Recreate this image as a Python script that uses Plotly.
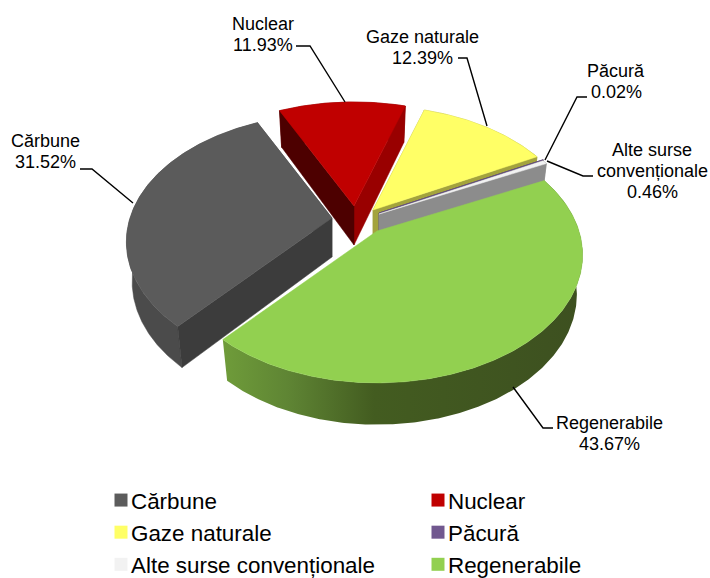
import numpy as np
import plotly.graph_objects as go

categories = ["Cărbune", "Nuclear", "Gaze naturale", "Păcură", "Alte surse convenționale", "Regenerabile"]
values = [31.52, 11.93, 12.39, 0.02, 0.46, 43.67]
label_lines = [["Cărbune"], ["Nuclear"], ["Gaze naturale"], ["Păcură"], ["Alte surse", "convenționale"], ["Regenerabile"]]
top_colors = ["#5b5b5b", "#c00000", "#ffff66", "#71588f", "#f2f2f2", "#92d050"]
legend_colors = ["#5c5c5c", "#c00000", "#ffff66", "#71588f", "#f2f2f2", "#92d050"]
outer_colors = ["#4b4b4b", "#7a0000", "#a3a33d", "#4b3a60", "#8c8c8c", "#435c20"]
start_wall = ["#3c3c3c", "#4d0000", "#a3a33d", "#4b3a60", "#8c8c8c", None]
end_wall = ["#3c3c3c", "#990000", "#a3a33d", "#4b3a60", "#8c8c8c", None]
legend_slot = ["legend", "legend2", "legend", "legend2", "legend", "legend2"]

# layout constants of the tilted, exploded pie (pixels)
apex = [(332, 218), (354, 206), (373, 210), (379, 213), (379, 214), (377, 231)]
draw_order = [1, 2, 3, 4, 0, 5]
FIRST_ANGLE = 221.0
RX, RY, PERSP, DEPTH, BOTTOM_X = 202.0, 123.5, 0.187, 39.0, 0.972

label_first_line = [(45, 141), (263, 24), (422, 37), (616, 71), (652, 150), (609, 423)]
LINE_STEP = 21
leaders = [
    [(80, 169), (92, 169), (133, 203)],
    [(296, 46), (310, 46), (345, 102)],
    [(458, 58), (467, 58), (487, 126)],
    [(587, 97), (577, 97), (545, 160)],
    [(593, 176), (583, 176), (547, 161)],
    [(513, 387), (543, 428), (553, 428)],
]


def top_pt(theta, ax):
    t = np.radians(theta)
    u, v = np.sin(t), np.cos(t)
    w = 1 + PERSP * v
    return ax[0] + RX * u / w, ax[1] - RY * v / w


def low_pt(theta, ax):
    x, y = top_pt(theta, ax)
    v = np.cos(np.radians(theta))
    return ax[0] + (x - ax[0]) * BOTTOM_X, y + DEPTH * (1 - 0.07 * v)


def poly(xs, ys, color, **extra):
    return go.Scatter(x=list(xs) + [xs[0]], y=list(ys) + [ys[0]], mode="lines", fill="toself",
                      fillcolor=color, line=dict(color=color, width=0.5),
                      showlegend=False, hoverinfo="skip", **extra)


angles = [FIRST_ANGLE]
for val in values:
    angles.append(angles[-1] + val * 3.6)

fig = go.Figure()
for i in draw_order:
    a0, a1 = angles[i], angles[i + 1]
    ax = apex[i]
    th = np.linspace(a0, a1, max(3, int((a1 - a0) * 2)))
    tx, ty = zip(*[top_pt(t, ax) for t in th])
    lx, ly = zip(*[low_pt(t, ax) for t in th])
    bottom_apex = (ax[0], ax[1] + DEPTH)
    wx, wy = list(tx) + list(lx)[::-1], list(ty) + list(ly)[::-1]
    if i == 5:
        fig.add_trace(go.Scatter(
            x=wx + [wx[0]], y=wy + [wy[0]], mode="lines", fill="toself",
            fillgradient=dict(type="horizontal", colorscale=[
                [0.0, "#6f9c3a"], [0.18, "#5f8534"], [0.42, "#435c20"], [1.0, "#3d5020"]]),
            line=dict(width=0), showlegend=False, hoverinfo="skip"))
    else:
        fig.add_trace(poly(wx, wy, outer_colors[i]))
    if end_wall[i]:
        fig.add_trace(poly([ax[0], tx[-1], lx[-1], bottom_apex[0]], [ax[1], ty[-1], ly[-1], bottom_apex[1]], end_wall[i]))
    if start_wall[i]:
        fig.add_trace(poly([ax[0], tx[0], lx[0], bottom_apex[0]], [ax[1], ty[0], ly[0], bottom_apex[1]], start_wall[i]))
    fig.add_trace(poly([ax[0]] + list(tx), [ax[1]] + list(ty), top_colors[i]))

for pts in leaders:
    fig.add_trace(go.Scatter(x=[p[0] for p in pts], y=[p[1] for p in pts], mode="lines",
                             line=dict(color="#000000", width=1.4), showlegend=False, hoverinfo="skip"))

for name, col, slot in zip(categories, legend_colors, legend_slot):
    fig.add_trace(go.Scatter(x=[None], y=[None], mode="markers", name=name, legend=slot,
                             marker=dict(symbol="square", size=13, color=col)))

for lines, val, (lx_, ly_) in zip(label_lines, values, label_first_line):
    for k, txt in enumerate(lines + [f"{val:.2f}%"]):
        fig.add_annotation(x=lx_, y=ly_ + k * LINE_STEP, xref="x", yref="y", text=txt, showarrow=False,
                           font=dict(family="Liberation Sans", size=18, color="#000000"), align="center")

legend_common = dict(orientation="v", y=1 - 479 / 578, xanchor="left", yanchor="top", itemclick=False,
                     font=dict(family="Liberation Sans", size=22.4, color="#000000"),
                     bgcolor="rgba(0,0,0,0)", traceorder="normal")
fig.update_layout(
    width=710, height=578, margin=dict(l=0, r=0, t=0, b=0, autoexpand=False),
    paper_bgcolor="#ffffff", plot_bgcolor="#ffffff",
    xaxis=dict(range=[0, 710], visible=False, fixedrange=True),
    yaxis=dict(range=[578, 0], visible=False, fixedrange=True),
    hovermode=False,
    legend=dict(x=91 / 710, **legend_common),
    legend2=dict(x=408 / 710, **legend_common),
)
fig.write_html("out.html", config={"displayModeBar": False},
               post_script="document.body.style.margin='0';"
                           "document.querySelectorAll('.legendsymbols').forEach(function(g){g.setAttribute('transform','translate(10,0)');});")
